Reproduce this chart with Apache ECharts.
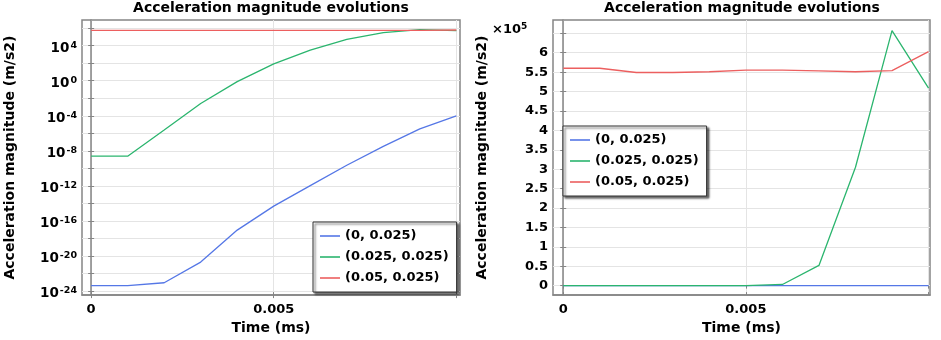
<!DOCTYPE html>
<html>
<head>
<meta charset="utf-8">
<script src="https://cdn.jsdelivr.net/npm/echarts@6/dist/echarts.min.js"></script>
<style>
html, body { margin: 0; padding: 0; background: #fff; }
#chart { width: 941px; height: 340px; }
</style>
</head>
<body>
<div id="chart"></div>
<script>
// time steps (ms)
const timeMs = [0, 0.001, 0.002, 0.003, 0.004, 0.005, 0.006, 0.007, 0.008, 0.009, 0.01];
const pointNames = ['(0, 0.025)', '(0.025, 0.025)', '(0.05, 0.025)'];

// acceleration magnitude (m/s2) at each point
const accelA = [4.3e-24, 4.3e-24, 9.3e-24, 2.1e-21, 9.3e-18, 5.1e-15, 1.1e-12, 2.3e-10, 3.2e-8, 3.2e-6, 1.0e-4];
const accelB = [2.5e-9, 2.5e-9, 2.4e-6, 2.5e-3, 0.78, 83, 3.0e3, 5.2e4, 3.05e5, 6.57e5, 5.09e5];
const accelC = [5.60e5, 5.60e5, 5.49e5, 5.49e5, 5.51e5, 5.55e5, 5.55e5, 5.53e5, 5.51e5, 5.54e5, 6.03e5];

// ticks
const timeTicks = [0, 0.005, 0.01];
const timeLabels = [0, 0.005];
const logTicks = [1e-24, 1e-22, 1e-20, 1e-18, 1e-16, 1e-14, 1e-12, 1e-10, 1e-8, 1e-6, 1e-4, 1e-2, 1, 1e2, 1e4, 1e6];
const logLabels = [1e-24, 1e-20, 1e-16, 1e-12, 1e-8, 1e-4, 1, 1e4];
const linTicks = [0, 5e4, 1e5, 1.5e5, 2e5, 2.5e5, 3e5, 3.5e5, 4e5, 4.5e5, 5e5, 5.5e5, 6e5, 6.5e5];
const linLabels = [0, 5e4, 1e5, 1.5e5, 2e5, 2.5e5, 3e5, 3.5e5, 4e5, 4.5e5, 5e5, 5.5e5, 6e5];

const colors = ['#5577e6', '#2bb56e', '#ec5f5f'];
const FONT = '"DejaVu Sans", Verdana, sans-serif';
const frameColor = '#858585';
const gridColor = '#e4e4e4';

const chart = echarts.init(document.getElementById('chart'));

function pairs(ys) {
    return timeMs.map((t, i) => [t, ys[i]]);
}

function tickAxis(gridIndex, pos, extra) {
    return Object.assign({
        gridIndex: gridIndex,
        position: pos,
        axisLine: { show: false },
        axisLabel: { show: false },
        splitLine: { show: false },
        axisTick: { show: true, inside: true, length: 3, lineStyle: { color: frameColor } }
    }, extra);
}

const xBase = {
    type: 'value',
    axisLine: { show: true, onZero: false, lineStyle: { color: frameColor, width: 1.5 } },
    axisTick: { show: true, inside: true, length: 3, customValues: timeTicks, lineStyle: { color: frameColor } },
    axisLabel: {
        customValues: timeLabels, margin: 8,
        color: '#000', fontFamily: FONT, fontWeight: 'bold', fontSize: 13,
        formatter: v => v === 0 ? '0' : String(v)
    },
    splitLine: { show: true, lineStyle: { color: gridColor, width: 1 } },
    name: 'Time (ms)', nameLocation: 'middle', nameGap: 21,
    nameTextStyle: { color: '#000', fontFamily: FONT, fontWeight: 'bold', fontSize: 14 }
};

const yName = {
    name: 'Acceleration magnitude (m/s2)', nameLocation: 'middle',
    nameTextStyle: { color: '#000', fontFamily: FONT, fontWeight: 'bold', fontSize: 14 }
};

const legendBase = {
    orient: 'vertical',
    data: pointNames,
    icon: 'rect',
    backgroundColor: '#fff',
    borderColor: '#333',
    borderWidth: 1,
    shadowColor: 'rgba(0,0,0,0.6)',
    shadowBlur: 2,
    shadowOffsetX: 2,
    shadowOffsetY: 2,
    itemWidth: 20,
    itemHeight: 1.6,
    itemGap: 5,
    padding: [6, 8, 6, 7],
    selectedMode: false,
    textStyle: { color: '#000', fontFamily: FONT, fontWeight: 'bold', fontSize: 13, lineHeight: 16 }
};

const series = [];
[accelA, accelB, accelC].forEach((ys, k) => {
    series.push({
        name: pointNames[k], type: 'line', xAxisIndex: 0, yAxisIndex: 0,
        data: pairs(ys), symbol: 'none', color: colors[k],
        lineStyle: { width: 1.3 }
    });
    series.push({
        name: pointNames[k], type: 'line', xAxisIndex: 1, yAxisIndex: 1,
        data: pairs(ys), symbol: 'none', color: colors[k],
        lineStyle: { width: 1.3 }
    });
});

const option = {
    animation: false,
    backgroundColor: '#fff',
    grid: [
        { left: 82, top: 20, width: 378, height: 282, show: true, borderColor: frameColor, borderWidth: 1.5, backgroundColor: '#fff' },
        { left: 553, top: 20, width: 377, height: 282, show: true, borderColor: frameColor, borderWidth: 1.5, backgroundColor: '#fff' }
    ],
    xAxis: [
        Object.assign({}, xBase, { gridIndex: 0, min: -0.00025, max: 0.0101 }),
        Object.assign({}, xBase, { gridIndex: 1, min: -0.00028, max: 0.01004 }),
        tickAxis(0, 'top', { type: 'value', min: -0.00025, max: 0.0101, axisTick: { show: true, inside: true, length: 3, customValues: timeTicks, lineStyle: { color: frameColor } } }),
        tickAxis(1, 'top', { type: 'value', min: -0.00028, max: 0.01004, axisTick: { show: true, inside: true, length: 3, customValues: timeTicks, lineStyle: { color: frameColor } } })
    ],
    yAxis: [
        Object.assign({}, yName, {
            type: 'log', gridIndex: 0, logBase: 10,
            min: Math.pow(10, -24.44), max: Math.pow(10, 6.92),
            nameGap: 65,
            axisLine: { show: true, lineStyle: { color: frameColor, width: 1.5 } },
            axisTick: { show: true, inside: true, length: 3, customValues: logTicks, lineStyle: { color: frameColor } },
            minorTick: { show: false },
            splitLine: { show: true, lineStyle: { color: gridColor, width: 1 } },
            axisLabel: {
                customValues: logLabels, margin: 5,
                padding: [5, 0, 0, 0],
                color: '#000', fontFamily: FONT, fontWeight: 'bold', fontSize: 13,
                formatter: v => '{b|10}{s|' + Math.round(Math.log10(v)) + '}',
                rich: {
                    b: { color: '#000', fontFamily: FONT, fontWeight: 'bold', fontSize: 13.5, lineHeight: 16 },
                    s: { color: '#000', fontFamily: FONT, fontWeight: 'bold', fontSize: 9.5, lineHeight: 10, verticalAlign: 'top', padding: [0, 0, 6, 1] }
                }
            }
        }),
        Object.assign({}, yName, {
            type: 'value', gridIndex: 1,
            min: -24400, max: 684300,
            nameGap: 64,
            axisLine: { show: true, lineStyle: { color: frameColor, width: 1.5 } },
            axisTick: { show: true, inside: true, length: 3, customValues: linTicks, lineStyle: { color: frameColor } },
            splitLine: { show: true, lineStyle: { color: gridColor, width: 1 } },
            axisLabel: {
                customValues: linLabels, margin: 5,
                color: '#000', fontFamily: FONT, fontWeight: 'bold', fontSize: 13,
                formatter: v => String(Math.round(v / 1e4) / 10)
            }
        }),
        tickAxis(0, 'right', { type: 'log', logBase: 10, min: Math.pow(10, -24.44), max: Math.pow(10, 6.92), minorTick: { show: false },
            axisTick: { show: true, inside: true, length: 3, customValues: logTicks, lineStyle: { color: frameColor } } }),
        tickAxis(1, 'right', { type: 'value', min: -24400, max: 684300,
            axisTick: { show: true, inside: true, length: 3, customValues: linTicks, lineStyle: { color: frameColor } } })
    ],
    legend: [
        Object.assign({}, legendBase, { left: 313, top: 222 }),
        Object.assign({}, legendBase, { left: 563, top: 126 })
    ],
    graphic: [
        { type: 'text', x: 271, y: 8, style: { text: 'Acceleration magnitude evolutions', fill: '#000', font: 'bold 14px ' + FONT, align: 'center', verticalAlign: 'middle' } },
        { type: 'text', x: 742, y: 8, style: { text: 'Acceleration magnitude evolutions', fill: '#000', font: 'bold 14px ' + FONT, align: 'center', verticalAlign: 'middle' } },
        { type: 'text', x: 492, y: 22, style: {
            text: '{a|×10}{s|5}', align: 'left', verticalAlign: 'top',
            rich: {
                a: { fill: '#000', fontFamily: FONT, fontWeight: 'bold', fontSize: 13, lineHeight: 16 },
                s: { fill: '#000', fontFamily: FONT, fontWeight: 'bold', fontSize: 9, lineHeight: 10, verticalAlign: 'top' }
            }
        } }
    ],
    series: series
};

chart.setOption(option);
</script>
</body>
</html>
